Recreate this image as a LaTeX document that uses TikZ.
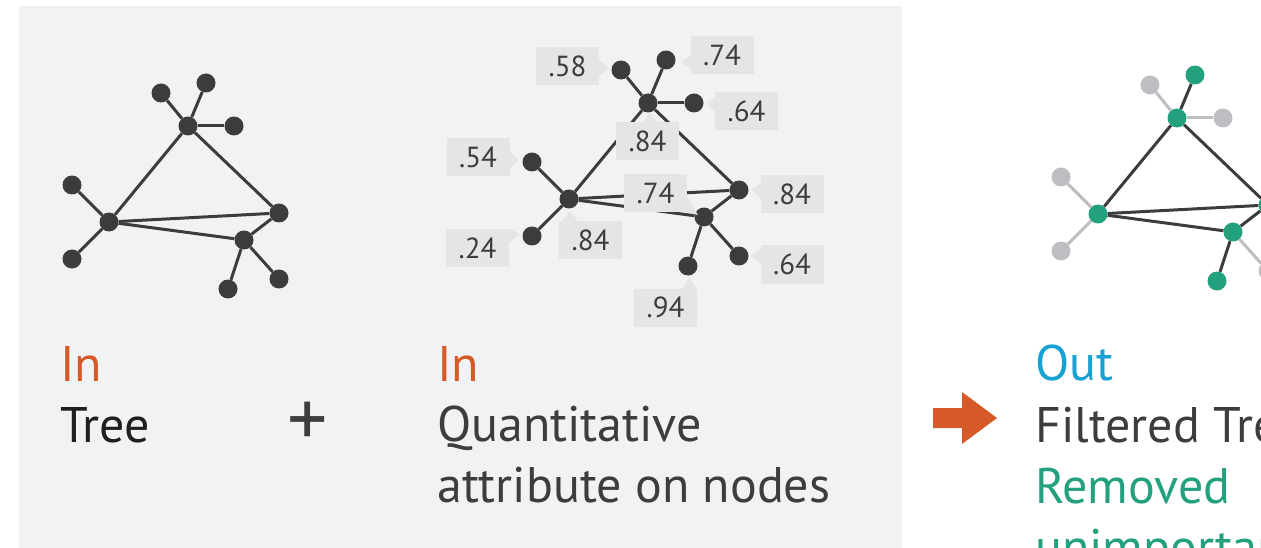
\documentclass[tikz,border=0pt]{standalone}
\usepackage{fontspec}
\setmainfont{PT Sans}
\usetikzlibrary{positioning,calc}

\definecolor{panelbg}{HTML}{F1F2F4}
\definecolor{boxfill}{HTML}{E4E5E7}
\definecolor{nodedark}{HTML}{3C3C3C}
\definecolor{nodelight}{HTML}{BDBEC1}
\definecolor{keepgreen}{HTML}{23A17F}
\definecolor{inorange}{HTML}{D55A27}
\definecolor{outblue}{HTML}{18A2D4}
\definecolor{textdark}{HTML}{3D3D3D}

\tikzset{
  dot/.style={circle, fill=nodedark, inner sep=0pt, minimum size=19pt},
  gdot/.style={dot, fill=keepgreen},
  ldot/.style={dot, fill=nodelight},
  edge/.style={line width=3pt, nodedark},
  ledge/.style={line width=3pt, nodelight},
  valbox/.style={fill=boxfill, inner sep=0pt, minimum width=63pt, minimum height=38pt,
    font=\fontsize{29}{29}\selectfont, text=textdark},
  bigtxt/.style={anchor=base west, inner sep=0pt, font=\fontsize{50}{50}\selectfont}
}

\begin{document}
\begin{tikzpicture}[x=1pt,y=-1pt]
\clip (0,0) rectangle (1261,548);
\useasboundingbox (0,0) rectangle (1261,548);
% input panel
\fill[panelbg] (19,6) rectangle (902,548);

% tree and tree with values: same graph, shifted
\foreach \g/\dx/\dy in {a/0/0,b/460/-23} {
  \begin{scope}[shift={(\dx,\dy)}]
    \node[dot] (\g T) at (188,126) {};
    \node[dot] (\g T1) at (161,93) {};
    \node[dot] (\g T2) at (206,83) {};
    \node[dot] (\g T3) at (234,126) {};
    \node[dot] (\g L) at (109,222) {};
    \node[dot] (\g L1) at (72,185) {};
    \node[dot] (\g L2) at (72,259) {};
    \node[dot] (\g R) at (279,213) {};
    \node[dot] (\g B) at (244,240) {};
    \node[dot] (\g B1) at (228,289) {};
    \node[dot] (\g B2) at (279,279) {};
  \end{scope}
  \foreach \u/\v in {T/T1,T/T2,T/T3,T/L,T/R,L/L1,L/L2,L/R,L/B,B/R,B/B1,B/B2}
    \draw[edge] (\g\u) -- (\g\v);
}

% filtered tree
\begin{scope}[shift={(989,-8)}]
  \node[gdot] (cT) at (188,126) {};
  \node[ldot] (cT1) at (161,93) {};
  \node[gdot] (cT2) at (206,83) {};
  \node[ldot] (cT3) at (234,126) {};
  \node[gdot] (cL) at (109,222) {};
  \node[ldot] (cL1) at (72,185) {};
  \node[ldot] (cL2) at (72,259) {};
  \node[gdot] (cR) at (279,213) {};
  \node[gdot] (cB) at (244,240) {};
  \node[gdot] (cB1) at (228,289) {};
  \node[ldot] (cB2) at (279,279) {};
\end{scope}
\foreach \u/\v in {T/T1,T/T3,L/L1,L/L2,B/B2}
  \draw[ledge] (c\u) -- (c\v);
\foreach \u/\v in {T/T2,T/L,T/R,L/R,L/B,B/R,B/B1}
  \draw[edge] (c\u) -- (c\v);

% value labels
\foreach \n/\val/\x/\y in {t58/.58/567.5/66.5, t74a/.74/722/55, t64a/.64/746.5/111,
    t84a/.84/647.5/141, t54/.54/478/157.5, t74b/.74/655.5/193, t84b/.84/792/194,
    t84c/.84/590.5/240, t24/.24/477.5/248, t64b/.64/792/264.5, t94/.94/665.5/307.5}
  \node[valbox] (\n) at (\x,\y) {\val};
% label pointers
\foreach \ax/\ay/\bx/\by/\cx/\cy in {599/60/609/68/599/76, 691/55/681/62/691/69,
    715/97/707/104/715/112, 643/122.5/650/113/657/122.5,
    509/151/519/160/509/169, 687/197/698/215/687/212,
    761/183/752/190/761/198, 562/221.5/570/211/578/221.5,
    509/229/520/234/509/243, 761/249/751/256/761/264,
    682/289/689/278/697/289}
  \fill[boxfill] (\ax,\ay) -- (\bx,\by) -- (\cx,\cy) -- cycle;

% captions
\node[bigtxt, text=inorange] (in1) at (60,381) {In};
\node[bigtxt, text=black!88] (tree) at (60,442) {Tree};
\node[font=\fontsize{80}{80}\selectfont, text=textdark] (plus) at (308,424) {+};
\node[bigtxt, text=inorange] (in2) at (437,381) {In};
\node[bigtxt, text=textdark] (quant) at (437,441) {Quantitative};
\node[bigtxt, text=textdark] (attr) at (437,502) {attribute on nodes};
\node[bigtxt, text=outblue] (out) at (1035,380) {Out};
\node[bigtxt, text=textdark] (filt) at (1035,442) {Filtered Tree};
\node[bigtxt, text=keepgreen] (rem) at (1035,503) {Removed};
\node[bigtxt, text=keepgreen] (unimp) at (1035,564) {unimportant};

% arrow
\fill[inorange] (933,408) -- (962,408) -- (962,392) -- (997,418)
  -- (962,444) -- (962,428) -- (933,428) -- cycle;
\end{tikzpicture}
\end{document}
